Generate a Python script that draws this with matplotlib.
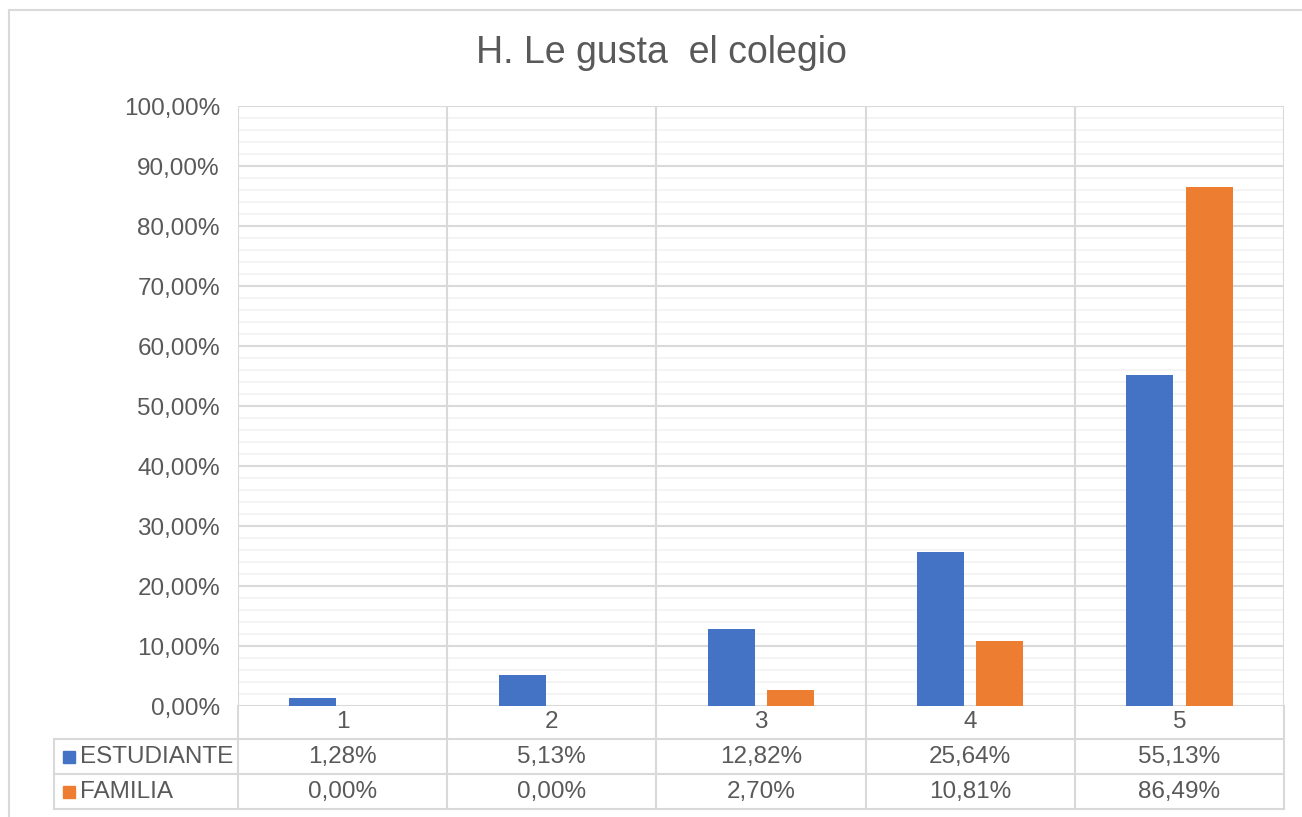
import numpy as np
import matplotlib.pyplot as plt
from matplotlib.patches import Rectangle
from matplotlib.transforms import blended_transform_factory

# Data
categories = ["1", "2", "3", "4", "5"]
series_names = ["ESTUDIANTE", "FAMILIA"]
estudiante = [1.28, 5.13, 12.82, 25.64, 55.13]
familia = [0.00, 0.00, 2.70, 10.81, 86.49]
title = "H. Le gusta  el colegio"

plt.rcParams['font.family'] = ['Liberation Sans', 'DejaVu Sans']

W, H = 1302, 817
fig = plt.figure(figsize=(W / 100, H / 100), dpi=100)

# outer chart border (runs off the right/bottom edge)
fig.patches.append(Rectangle((9 / W, -0.1), 1.2, 1 - 10 / H + 0.1,
                             transform=fig.transFigure, fill=False,
                             edgecolor='#D9D9D9', linewidth=1.5))

ax_l, ax_r, ax_t, ax_b = 238, 1284, 106, 706
ax = fig.add_axes([ax_l / W, 1 - ax_b / H, (ax_r - ax_l) / W, (ax_b - ax_t) / H])

text_col = '#595959'
grid_col = '#D9D9D9'
blue = '#4472C4'
orange = '#ED7D31'
fs = 17.5

x = np.arange(len(categories))
bw = 0.225
off = 0.142
ax.bar(x - off, estudiante, bw, color=blue, zorder=3)
ax.bar(x + off, familia, bw, color=orange, zorder=3)

ax.set_xlim(-0.5, len(categories) - 0.5)
ax.set_ylim(0, 100)

# gridlines
for v in np.arange(0, 101, 2):
    if v % 10 == 0:
        ax.axhline(v, color=grid_col, lw=1.5, zorder=1)
    else:
        ax.axhline(v, color='#F2F2F2', lw=1.2, zorder=0.5)
for b in np.arange(-0.5, len(categories), 1.0):
    ax.axvline(b, color=grid_col, lw=1.5, zorder=1)

for s in ax.spines.values():
    s.set_visible(False)

ax.set_yticks(np.arange(0, 101, 10))
ax.set_yticklabels([f"{v:.2f}%".replace('.', ',') for v in np.arange(0, 101, 10)])
ax.tick_params(axis='y', length=0, pad=13, labelsize=fs, labelcolor=text_col)
ax.set_xticks([])

fig.text(661 / W, 1 - 53 / H, title, ha='center', va='center',
         fontsize=27, color=text_col)

# data table below the plot
trans = blended_transform_factory(ax.transData, fig.transFigure)
def fy(py):
    return 1 - py / H

row_lines = [739, 774, 809]
row_centers = [722, 757, 792]
left_px = 54
left_x = -0.5 - (ax_l - left_px) / ((ax_r - ax_l) / len(categories))

lk = dict(color=grid_col, lw=1.5, clip_on=False, transform=trans)
for py in row_lines:
    ax.plot([left_x, len(categories) - 0.5], [fy(py), fy(py)], **lk)
for b in np.arange(-0.5, len(categories), 1.0):
    ax.plot([b, b], [fy(ax_b), fy(row_lines[-1])], **lk)
ax.plot([left_x, left_x], [fy(row_lines[0]), fy(row_lines[-1])], **lk)

tk = dict(transform=trans, ha='center', va='center', fontsize=fs,
          color=text_col, clip_on=False)
for i, c in enumerate(categories):
    ax.text(i, fy(row_centers[0]), c, **tk)
for r, (name, vals, col) in enumerate(zip(series_names, [estudiante, familia], [blue, orange])):
    yc = fy(row_centers[r + 1])
    for i, v in enumerate(vals):
        ax.text(i, yc, f"{v:.2f}%".replace('.', ','), **tk)
    fig.patches.append(Rectangle((63 / W, yc - 6 / H), 12 / W, 12 / H,
                                 transform=fig.transFigure, color=col))
    fig.text(80 / W, yc, name, ha='left', va='center', fontsize=fs, color=text_col)

fig.savefig('out.png', dpi=100)
